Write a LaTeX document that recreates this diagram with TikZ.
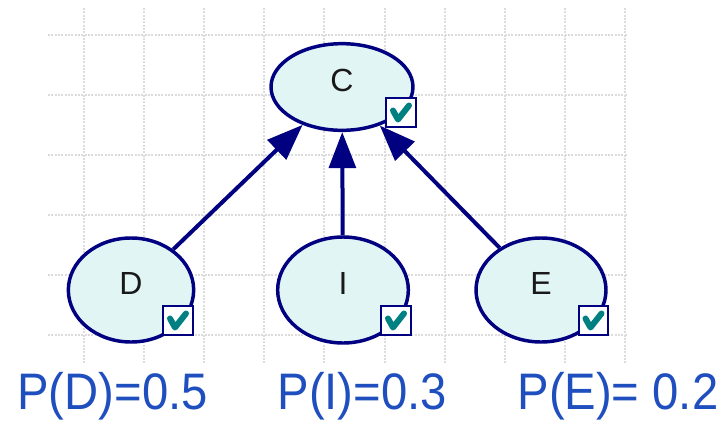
\documentclass[tikz,border=0pt]{standalone}
\usepackage{fontspec}
\setmainfont{Liberation Sans}
\newfontfamily\probfont[FakeStretch=0.92]{Liberation Sans}
\usetikzlibrary{shapes.geometric,arrows.meta,calc}
\definecolor{netnavy}{RGB}{0,0,128}
\definecolor{nodefill}{RGB}{226,245,245}
\definecolor{tickteal}{RGB}{0,128,128}
\definecolor{probblue}{RGB}{31,78,191}
\definecolor{gridgray}{RGB}{220,220,220}
\tikzset{every picture/.style={line width=0.75pt}}

\begin{document}
\begin{tikzpicture}[x=0.75pt,y=0.75pt,yscale=-1,xscale=1,
	var/.style={ellipse, draw=netnavy, fill=nodefill, line width=2.6pt, inner sep=0pt, text depth=10pt, text=black!90, font=\fontsize{24}{24}\selectfont},
	chkbox/.style={draw=netnavy, fill=white, line width=1.5pt, minimum size=22pt, inner sep=0pt},
	chkmark/.style={draw=tickteal, line width=4.5pt, line join=round, line cap=round},
	depedge/.style={draw=netnavy, line width=3pt, -{Triangle[length=27pt,width=20pt]}},
	gridline/.style={gridgray, line width=1.5pt, dash pattern=on 1.5pt off 1pt},
	prob/.style={anchor=base west, text=probblue, inner sep=0pt, font=\probfont\fontsize{38.5}{39}\selectfont}]
			\useasboundingbox (0,0) rectangle (722,422);
			%Grid
			\foreach \gy in {35,95,155,215,275,335}
				\draw[gridline] (48,\gy) -- (628,\gy);
			\foreach \gx in {0,...,9}
				\draw[gridline] (84+60.1*\gx,8) -- (84+60.1*\gx,363);

			%Shape: Ellipse
			\node[var, minimum width=106.5pt, minimum height=65pt] (C) at (342,87) {C};
			%Shape: Ellipse
			\node[var, minimum width=94pt, minimum height=78pt] (D) at (131,290) {D};
			%Shape: Ellipse
			\node[var, minimum width=98pt, minimum height=79.5pt] (I) at (343,290) {I};
			%Shape: Ellipse
			\node[var, minimum width=97.5pt, minimum height=78pt] (E) at (541,290) {E};

			%Straight Lines
			\draw[depedge] (D) -- (C);
			\draw[depedge] (I) -- (C);
			\draw[depedge] (E) -- (C);

			%Shape: Square
			\node[chkbox] (Cchk) at (401,112.5) {};
			\node[chkbox] (Dchk) at (178,320.5) {};
			\node[chkbox] (Ichk) at (396,320.5) {};
			\node[chkbox] (Echk) at (593.5,320.5) {};
			\foreach \b in {Cchk,Dchk,Ichk,Echk}
				\draw[chkmark] ($(\b)+(-8,-2)$) -- ($(\b)+(-3,7)$) -- ($(\b)+(8,-7)$);

			% Text Node
			\node[prob] (pD) at (17,409) {P(D)=0.5};
			% Text Node
			\node[prob] (pI) at (277,409) {P(I)=0.3};
			% Text Node
			\node[prob] (pE) at (517,409) {P(E)= 0.2};
\end{tikzpicture}
\end{document}
